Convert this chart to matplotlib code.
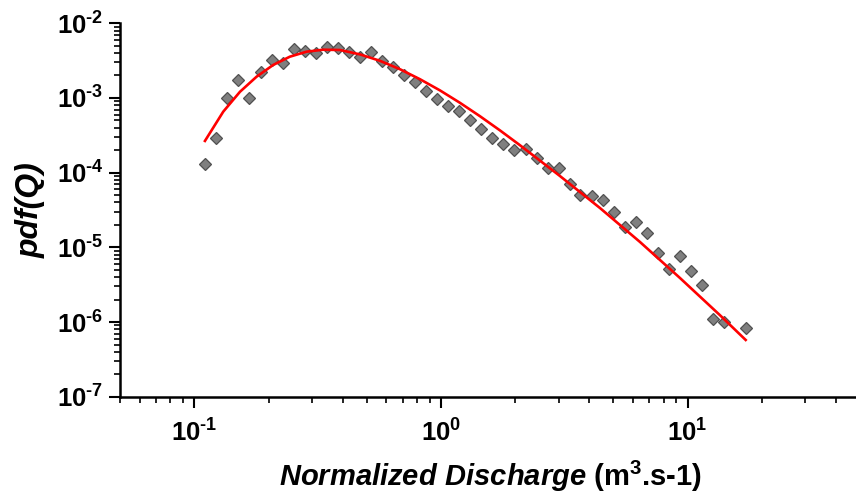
import matplotlib
matplotlib.use('Agg')
import matplotlib.pyplot as plt
from matplotlib.ticker import LogLocator, NullFormatter, FixedLocator, FixedFormatter

# Données
q_obs = [0.111, 0.123, 0.136, 0.151, 0.167, 0.186, 0.207, 0.229, 0.253, 0.280,
         0.311, 0.345, 0.382, 0.424, 0.470, 0.520, 0.577, 0.641, 0.710, 0.787,
         0.871, 0.961, 1.071, 1.186, 1.315, 1.456, 1.614, 1.788, 1.982, 2.211,
         2.443, 2.707, 3.00, 3.334, 3.68, 4.09, 4.52, 5.02, 5.57, 6.17,
         6.84, 7.58, 8.42, 9.31, 10.35, 11.46, 12.7, 14.03, 17.22]
pdf_obs = [1.31e-4, 2.94e-4, 1.01e-3, 1.74e-3, 9.9e-4, 2.23e-3, 3.23e-3, 2.91e-3, 4.49e-3, 4.30e-3,
           4.04e-3, 4.86e-3, 4.71e-3, 4.17e-3, 3.57e-3, 4.17e-3, 3.13e-3, 2.58e-3, 2.01e-3, 1.65e-3,
           1.25e-3, 9.79e-4, 7.88e-4, 6.76e-4, 5.08e-4, 3.81e-4, 2.94e-4, 2.42e-4, 2.0e-4, 2.06e-4,
           1.57e-4, 1.16e-4, 1.15e-4, 7.13e-5, 5.03e-5, 4.92e-5, 4.31e-5, 2.98e-5, 1.89e-5, 2.21e-5,
           1.56e-5, 8.5e-6, 5.09e-6, 7.75e-6, 4.83e-6, 3.14e-6, 1.11e-6, 1.01e-6, 8.2e-7]

# Courbe ajustée (rouge)
q_fit = [0.1105, 0.1311, 0.1532, 0.179, 0.209, 0.244, 0.2855, 0.333, 0.390, 0.4695,
         0.5658, 0.682, 0.822, 0.991, 1.194, 1.439, 1.735, 2.090, 3.036, 4.41,
         6.41, 9.307, 13.52, 17.2]
pdf_fit = [2.66e-4, 6.56e-4, 1.21e-3, 1.93e-3, 2.77e-3, 3.57e-3, 4.17e-3, 4.43e-3, 4.39e-3, 3.835e-3,
           3.148e-3, 2.429e-3, 1.785e-3, 1.264e-3, 8.623e-4, 5.706e-4, 3.683e-4, 2.334e-4, 9.03e-5, 3.369e-5,
           1.181e-5, 3.895e-6, 1.237e-6, 5.75e-7]

x_ticks = [0.1, 1, 10]
x_labels = [r'$10^{\text{-}1}$', '$10^{0}$', '$10^{1}$']
y_ticks = [1e-7, 1e-6, 1e-5, 1e-4, 1e-3, 1e-2]
y_labels = [r'$10^{\text{-}7}$', r'$10^{\text{-}6}$', r'$10^{\text{-}5}$',
            r'$10^{\text{-}4}$', r'$10^{\text{-}3}$', r'$10^{\text{-}2}$']

plt.rcParams['font.family'] = ['Liberation Sans', 'DejaVu Sans']
plt.rcParams['font.weight'] = 'bold'
plt.rcParams['mathtext.fontset'] = 'custom'
plt.rcParams['mathtext.rm'] = 'Liberation Sans:bold'
plt.rcParams['mathtext.it'] = 'Liberation Sans:bold:italic'
plt.rcParams['mathtext.bf'] = 'Liberation Sans:bold'
plt.rcParams['mathtext.default'] = 'rm'

fig = plt.figure(figsize=(8.56, 4.95), dpi=100)
ax = fig.add_axes([120 / 856, 1 - 396.7 / 495, 740 / 856, 373.4 / 495])

ax.plot(q_obs, pdf_obs, linestyle='none', marker='D', markersize=5.9,
        markerfacecolor='#7f7f7f', markeredgecolor='#505050', markeredgewidth=0.9, zorder=2)
ax.plot(q_fit, pdf_fit, color='red', linewidth=1.9, solid_joinstyle='round', zorder=3)

ax.set_xscale('log')
ax.set_yscale('log')
ax.set_xlim(0.05, 50)
ax.set_ylim(1e-7, 1e-2)

ax.spines['top'].set_visible(False)
ax.spines['right'].set_visible(False)
for s in ['left', 'bottom']:
    ax.spines[s].set_linewidth(1.8)

ax.xaxis.set_major_locator(FixedLocator(x_ticks))
ax.xaxis.set_major_formatter(FixedFormatter(x_labels))
ax.yaxis.set_major_locator(FixedLocator(y_ticks))
ax.yaxis.set_major_formatter(FixedFormatter(y_labels))
ax.xaxis.set_minor_locator(LogLocator(base=10, subs=range(2, 10), numticks=20))
ax.yaxis.set_minor_locator(LogLocator(base=10, subs=range(2, 10), numticks=20))
ax.xaxis.set_minor_formatter(NullFormatter())
ax.yaxis.set_minor_formatter(NullFormatter())

ax.tick_params(which='major', direction='out', length=8, width=1.5, labelsize=18.5, pad=4)
ax.tick_params(which='minor', direction='out', length=4, width=1.2)
ax.tick_params(axis='x', which='major', pad=8)

ax.set_xlabel(r'$\mathit{Normalized\ Discharge}$ (m$^3$.s-1)', fontsize=21, fontweight='bold')
ax.set_ylabel('pdf(Q)', fontsize=23, fontweight='bold', fontstyle='italic')
ax.yaxis.set_label_coords(-0.1, 0.5)
ax.xaxis.set_label_coords(0.5, -0.165)

plt.savefig('out.png', dpi=100)
